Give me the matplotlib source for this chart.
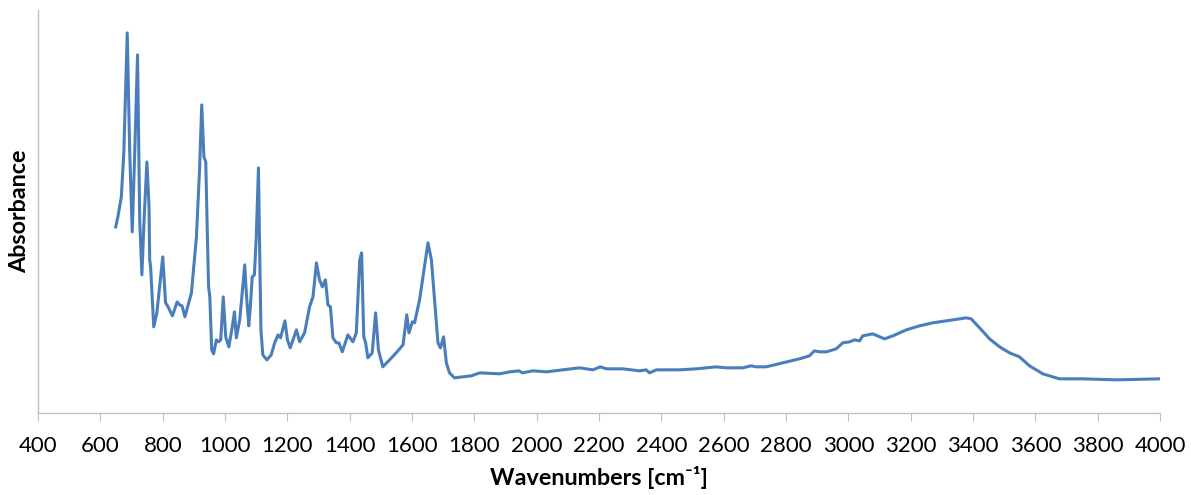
import matplotlib
matplotlib.use("Agg")
import matplotlib.pyplot as plt

plt.rcParams['font.family'] = ['Lato', 'DejaVu Sans']

# FTIR spectrum (absorbance in arbitrary units)
wavenumber = [649, 656, 667, 675, 686, 694, 702, 710, 719, 726, 733, 740, 749, 756, 758, 761,
              771, 781, 800, 809, 817, 831, 846, 854, 862, 871, 892, 908, 918, 925, 932, 938,
              942, 947, 951, 957, 963, 972, 979, 986, 994, 1002, 1012, 1023, 1030, 1036, 1047,
              1055, 1063, 1068, 1076, 1081, 1087, 1094, 1100, 1107, 1111, 1115, 1121, 1134,
              1148, 1159, 1170, 1178, 1192, 1200, 1209, 1229, 1239, 1255, 1271, 1282, 1293,
              1303, 1312, 1322, 1330, 1338, 1346, 1357, 1365, 1376, 1394, 1410, 1421, 1432,
              1438, 1445, 1451, 1458, 1472, 1483, 1492, 1506, 1528, 1549, 1571, 1583, 1590,
              1601, 1608, 1624, 1635, 1651, 1662, 1672, 1683, 1691, 1701, 1710, 1720, 1736,
              1763, 1790, 1817, 1881, 1913, 1943, 1954, 1988, 2031, 2084, 2137, 2180, 2204,
              2223, 2276, 2330, 2351, 2362, 2384, 2458, 2512, 2576, 2608, 2661, 2688, 2704,
              2736, 2790, 2843, 2875, 2891, 2907, 2929, 2961, 2982, 3004, 3020, 3036, 3046,
              3078, 3116, 3143, 3186, 3228, 3271, 3314, 3357, 3378, 3394, 3421, 3453, 3485,
              3517, 3549, 3581, 3624, 3677, 3752, 3859, 3998]
absorbance = [1.83, 1.93, 2.13, 2.57, 3.77, 2.57, 1.78, 2.57, 3.55, 1.90, 1.35, 1.90, 2.48, 2.03, 1.50, 1.43,
              0.83, 0.97, 1.53, 1.07, 1.03, 0.94, 1.08, 1.05, 1.04, 0.93, 1.17, 1.73, 2.40, 3.05, 2.53, 2.48,
              1.90, 1.23, 1.13, 0.60, 0.56, 0.70, 0.68, 0.70, 1.13, 0.73, 0.63, 0.83, 0.98, 0.72, 0.90,
              1.17, 1.45, 1.17, 0.84, 1.03, 1.33, 1.35, 1.73, 2.42, 1.57, 0.80, 0.55, 0.50,
              0.55, 0.67, 0.75, 0.72, 0.89, 0.70, 0.62, 0.80, 0.68, 0.77, 1.03, 1.13, 1.47,
              1.30, 1.23, 1.30, 1.05, 1.03, 0.72, 0.67, 0.67, 0.58, 0.75, 0.68, 0.77, 1.50,
              1.57, 0.73, 0.67, 0.52, 0.57, 0.97, 0.60, 0.43, 0.50, 0.57, 0.65, 0.95, 0.77,
              0.88, 0.87, 1.10, 1.33, 1.67, 1.50, 1.10, 0.67, 0.62, 0.73, 0.47, 0.37, 0.32,
              0.33, 0.34, 0.37, 0.36, 0.38, 0.39, 0.37, 0.39, 0.38, 0.40, 0.42, 0.40, 0.43,
              0.41, 0.41, 0.39, 0.40, 0.37, 0.40, 0.40, 0.41, 0.43, 0.42, 0.42, 0.44, 0.43,
              0.43, 0.47, 0.51, 0.54, 0.59, 0.58, 0.58, 0.61, 0.67, 0.68, 0.70, 0.69, 0.74,
              0.76, 0.71, 0.74, 0.80, 0.84, 0.87, 0.89, 0.91, 0.92, 0.91, 0.82, 0.71, 0.63,
              0.57, 0.53, 0.44, 0.36, 0.31, 0.31, 0.30, 0.31]
xticks = list(range(400, 4001, 200))

fig = plt.figure(figsize=(11.91, 4.95), dpi=100)
ax = fig.add_axes([0.032, 0.166, 0.942, 0.814])

ax.plot(wavenumber, absorbance, color='#4a7ebb', lw=2.2, solid_joinstyle='round')

ax.set_xlim(400, 4000)
ax.set_ylim(-0.03, 4.0)
ax.set_xticks(xticks)
ax.set_xticklabels([str(t) for t in xticks], fontsize=16)
ax.set_yticks([])
for s in ['top', 'right']:
    ax.spines[s].set_visible(False)
for s in ['left', 'bottom']:
    ax.spines[s].set_color('#bfbfbf')
    ax.spines[s].set_linewidth(1.0)
ax.tick_params(axis='x', direction='out', length=6, color='#bfbfbf', pad=11)

ax.set_xlabel('Wavenumbers [cm\u207b\u00b9]', fontsize=16.8, fontweight='bold', labelpad=7)
ax.set_ylabel('Absorbance', fontsize=16.8, fontweight='bold', labelpad=6)

fig.savefig('out.png', dpi=100)
